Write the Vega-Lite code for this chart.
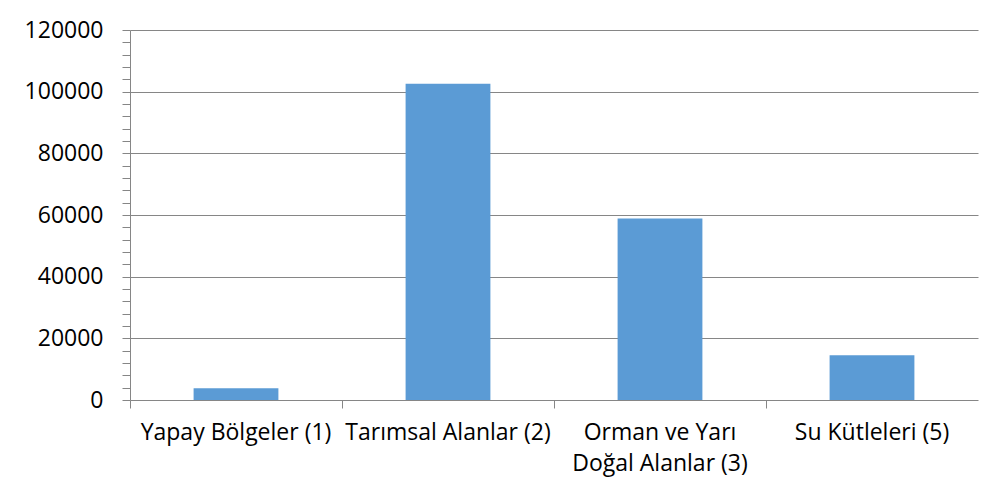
{
  "$schema": "https://vega.github.io/schema/vega-lite/v6.json",
  "autosize": {"type": "none"},
  "width": 848,
  "height": 370,
  "padding": {"left": 130, "top": 30, "right": 20, "bottom": 101},
  "background": "#ffffff",
  "config": {
    "view": {"stroke": null},
    "font": "Open Sans"
  },
  "data": {
    "values": [
      {"kategori": "Yapay Bölgeler (1)", "alan": 3800},
      {"kategori": "Tarımsal Alanlar (2)", "alan": 102600},
      {"kategori": "Orman ve Yarı Doğal Alanlar (3)", "alan": 58900},
      {"kategori": "Su Kütleleri (5)", "alan": 14500}
    ]
  },
  "mark": {"type": "bar", "color": "#5B9BD5", "width": {"band": 0.4}},
  "encoding": {
    "x": {
      "field": "kategori",
      "type": "nominal",
      "sort": null,
      "scale": {"paddingInner": 0, "paddingOuter": 0},
      "axis": {
        "title": null,
        "labelAngle": 0,
        "labelFontSize": 23,
        "labelColor": "#000000",
        "labelPadding": 13,
        "labelLineHeight": 31,
        "labelLimit": 400,
        "labelExpr": "datum.label == 'Orman ve Yarı Doğal Alanlar (3)' ? ['Orman ve Yarı', 'Doğal Alanlar (3)'] : datum.label",
        "bandPosition": 0,
        "tickSize": 8,
        "tickColor": "#868686",
        "domainColor": "#868686",
        "labelOverlap": false,
        "labelBound": false,
        "grid": false
      }
    },
    "y": {
      "field": "alan",
      "type": "quantitative",
      "scale": {"domain": [0, 120000], "nice": false},
      "axis": {
        "title": null,
        "values": [0, 4000, 8000, 12000, 16000, 20000, 24000, 28000, 32000, 36000, 40000, 44000, 48000, 52000, 56000, 60000, 64000, 68000, 72000, 76000, 80000, 84000, 88000, 92000, 96000, 100000, 104000, 108000, 112000, 116000, 120000],
        "labelExpr": "datum.value % 20000 === 0 ? format(datum.value, 'd') : ''",
        "labelFontSize": 23,
        "labelColor": "#000000",
        "labelPadding": 19,
        "labelOverlap": false,
        "tickSize": 8,
        "tickColor": "#868686",
        "domainColor": "#868686",
        "grid": true,
        "gridColor": "#868686",
        "gridOpacity": {"condition": {"test": "datum.value % 20000 === 0 && datum.value > 0", "value": 1}, "value": 0}
      }
    }
  }
}
